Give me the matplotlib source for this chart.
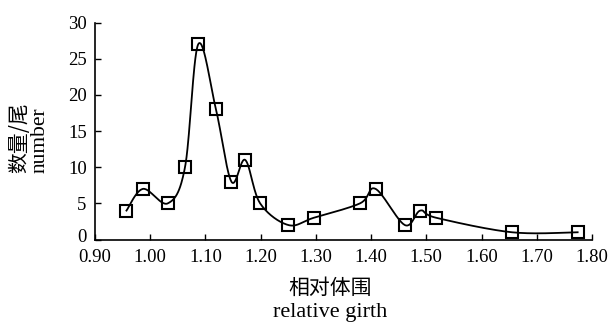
import numpy as np
import matplotlib
matplotlib.use("Agg")
import matplotlib.pyplot as plt
import matplotlib.transforms as mtransforms

girth = [0.957, 0.987, 1.032, 1.063, 1.087, 1.119, 1.147, 1.172, 1.199, 1.250,
         1.296, 1.380, 1.408, 1.461, 1.489, 1.518, 1.655, 1.774]
count = [4, 7, 5, 10, 27, 18, 8, 11, 5, 2, 3, 5, 7, 2, 4, 3, 1, 1]
xticks = [0.90, 1.00, 1.10, 1.20, 1.30, 1.40, 1.50, 1.60, 1.70, 1.80]
yticks = [0, 5, 10, 15, 20, 25, 30]

serif = ["Liberation Serif", "DejaVu Serif"]
cjk = ["Noto Sans CJK SC", "DejaVu Sans"]


def smooth(x, y, n=30):
    # Excel-style smoothed line: cubic Bezier segments with Catmull-Rom tangents
    x = np.asarray(x, float)
    y = np.asarray(y, float)
    px = np.concatenate([[x[0]], x, [x[-1]]])
    py = np.concatenate([[y[0]], y, [y[-1]]])
    xs, ys = [], []
    t = np.linspace(0, 1, n)
    for i in range(len(x) - 1):
        p0 = np.array([px[i + 1], py[i + 1]])
        p3 = np.array([px[i + 2], py[i + 2]])
        p1 = p0 + (np.array([px[i + 2], py[i + 2]]) - np.array([px[i], py[i]])) / 6
        p2 = p3 - (np.array([px[i + 3], py[i + 3]]) - np.array([px[i + 1], py[i + 1]])) / 6
        b = ((1 - t) ** 3)[:, None] * p0 + (3 * (1 - t) ** 2 * t)[:, None] * p1 \
            + (3 * (1 - t) * t ** 2)[:, None] * p2 + (t ** 3)[:, None] * p3
        xs.append(b[:, 0])
        ys.append(b[:, 1])
    return np.concatenate(xs), np.concatenate(ys)


fig = plt.figure(figsize=(6.10, 3.23), dpi=100)
ax = fig.add_axes([95 / 610, 1 - 239.5 / 323, (592 - 95) / 610, (239.5 - 22.5) / 323])

sx, sy = smooth(girth, count)
ax.plot(sx, sy, color="black", lw=1.3, zorder=2)
ax.plot(girth, count, linestyle="none", marker="s", markersize=8,
        markerfacecolor="none", markeredgecolor="black", markeredgewidth=1.5, zorder=3)

ax.set_xlim(0.90, 1.80)
ax.set_ylim(0, 30)
ax.set_xticks(xticks)
ax.set_xticklabels([f"{v:.2f}" for v in xticks], family=serif, fontsize=13.5)
ax.set_yticks(yticks)
ax.set_yticklabels([str(v) for v in yticks], family=serif, fontsize=13.5)
ax.tick_params(direction="in", length=4, width=1, color="black")
ax.tick_params(axis="x", pad=7)
ax.tick_params(axis="y", pad=6)
for s in ["top", "right"]:
    ax.spines[s].set_visible(False)
for s in ["left", "bottom"]:
    ax.spines[s].set_linewidth(1.2)

# nudge the "0" label slightly up so it does not collide with "0.90"
fig.canvas.draw()
zero_lbl = ax.get_yticklabels()[0]
zero_lbl.set_transform(zero_lbl.get_transform() +
                       mtransforms.ScaledTranslation(0, 3 / 72, fig.dpi_scale_trans))

fig.text(19 / 610, 1 - 138 / 323, "数量/尾", family=cjk, fontsize=15,
         rotation=90, ha="center", va="center")
fig.text(40 / 610, 1 - 140 / 323, "number", family=serif, fontsize=15.5,
         rotation=90, ha="center", va="center")
fig.text(330 / 610, 1 - 287.5 / 323, "相对体围", family=cjk, fontsize=15,
         ha="center", va="center")
fig.text(330 / 610, 1 - 313 / 323, "relative girth", family=serif, fontsize=16,
         ha="center", va="center")

fig.savefig("out.png", dpi=100)
